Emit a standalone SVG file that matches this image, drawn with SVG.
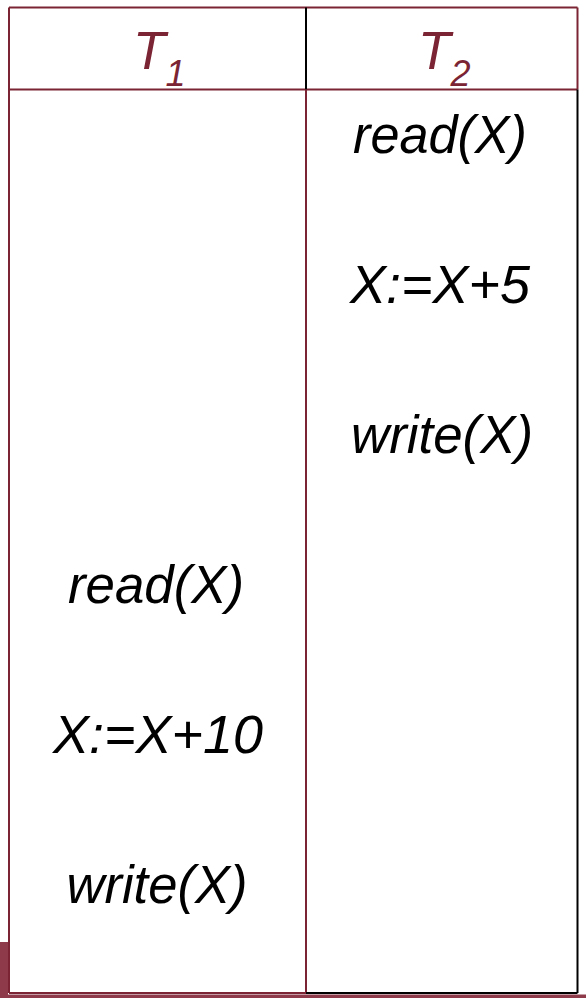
<svg xmlns="http://www.w3.org/2000/svg" width="586" height="998" viewBox="0 0 586 998">
<style>
.m{stroke:#7b2433;stroke-width:2;fill:none}
.k{stroke:#000;stroke-width:2;fill:none}
.hd{font-family:"Liberation Sans",Arial,sans-serif;font-style:italic;font-size:53px;fill:#7b2433}
.op{font-family:"Liberation Sans",Arial,sans-serif;font-style:italic;font-size:53px;fill:#000;text-anchor:middle}
</style>
<rect x="0" y="0" width="586" height="998" fill="#fff"/>
<g id="band" fill="#8e3a4a">
<rect x="0" y="942" width="8" height="56"/>
<rect x="0" y="994.5" width="586" height="3.5"/>
</g>
<g id="grid">
<line class="m" x1="9" y1="7.5" x2="577.5" y2="7.5"/>
<line class="m" x1="9" y1="89.5" x2="577.5" y2="89.5"/>
<line class="m" x1="9" y1="7.5" x2="9" y2="993"/>
<line class="m" x1="577.5" y1="7.5" x2="577.5" y2="89.5"/>
<line class="k" x1="577.5" y1="89.5" x2="577.5" y2="993"/>
<line class="k" x1="306" y1="7.5" x2="306" y2="89.5"/>
<line class="m" x1="306" y1="89.5" x2="306" y2="993"/>
<line class="m" x1="9" y1="993" x2="306" y2="993"/>
<line class="k" x1="306" y1="993" x2="577.5" y2="993"/>
</g>
<g id="header-T1"><text class="hd" x="133" y="69">T<tspan font-size="36" dy="16.5">1</tspan></text></g>
<g id="header-T2"><text class="hd" x="418" y="69">T<tspan font-size="36" dy="16.5">2</tspan></text></g>
<g id="T2-ops">
<text class="op" x="440" y="153" textLength="174" lengthAdjust="spacingAndGlyphs">read(X)</text>
<text class="op" x="440" y="303" textLength="180" lengthAdjust="spacingAndGlyphs">X:=X+5</text>
<text class="op" x="442" y="453" textLength="182" lengthAdjust="spacingAndGlyphs">write(X)</text>
</g>
<g id="T1-ops">
<text class="op" x="156" y="603" textLength="176" lengthAdjust="spacingAndGlyphs">read(X)</text>
<text class="op" x="158" y="753" textLength="210" lengthAdjust="spacingAndGlyphs">X:=X+10</text>
<text class="op" x="157" y="903" textLength="181" lengthAdjust="spacingAndGlyphs">write(X)</text>
</g>
</svg>
